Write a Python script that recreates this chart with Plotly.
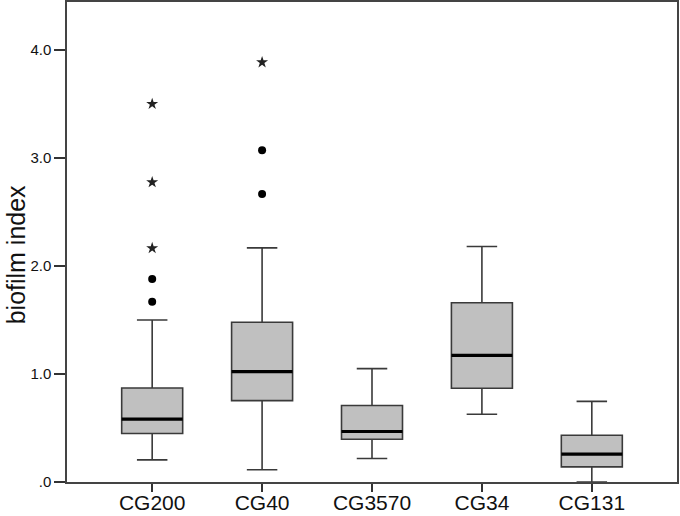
import plotly.graph_objects as go

categories = ["CG200", "CG40", "CG3570", "CG34", "CG131"]
q1 = [0.448, 0.753, 0.395, 0.867, 0.140]
median = [0.582, 1.021, 0.467, 1.171, 0.257]
q3 = [0.870, 1.478, 0.707, 1.658, 0.432]
lower_whisker = [0.205, 0.113, 0.217, 0.626, 0.0]
upper_whisker = [1.498, 2.166, 1.049, 2.178, 0.746]

# outliers (circle = mild, star = extreme)
circle_group = ["CG200", "CG200", "CG40", "CG40"]
circle_value = [1.667, 1.877, 2.665, 3.069]
star_group = ["CG200", "CG200", "CG200", "CG40"]
star_value = [2.163, 2.773, 3.497, 3.882]

ytick_vals = [0, 1, 2, 3, 4]
ytick_text = [".0", "1.0", "2.0", "3.0", "4.0"]

BOX_W = 0.555
idx = {c: i for i, c in enumerate(categories)}

fig = go.Figure()
for i, c in enumerate(categories):
    fig.add_trace(go.Box(
        x=[i], q1=[q1[i]], median=[median[i]], q3=[q3[i]],
        lowerfence=[lower_whisker[i]], upperfence=[upper_whisker[i]],
        width=BOX_W, whiskerwidth=0.5, boxpoints=False,
        fillcolor="#c0c0c0", line=dict(color="#3a3a3a", width=1.6),
        hoverinfo="skip", showlegend=False,
    ))

# thick median lines
mx, my = [], []
for i, c in enumerate(categories):
    mx += [i - BOX_W / 2, i + BOX_W / 2, None]
    my += [median[i], median[i], None]
fig.add_trace(go.Scatter(x=mx, y=my, mode="lines",
                         line=dict(color="#000", width=3.2),
                         hoverinfo="skip", showlegend=False))

fig.add_trace(go.Scatter(
    x=[idx[g] for g in circle_group], y=circle_value, mode="markers",
    marker=dict(symbol="circle", size=8, color="#000"),
    hoverinfo="skip", showlegend=False))
fig.add_trace(go.Scatter(
    x=[idx[g] for g in star_group], y=star_value, mode="markers",
    marker=dict(symbol="star", size=9, color="#222"),
    hoverinfo="skip", showlegend=False))

fig.add_annotation(
    text="biofilm index", textangle=-90, showarrow=False,
    xref="paper", yref="paper", x=-0.083, y=0.473,
    xanchor="center", yanchor="middle",
    font=dict(family="Liberation Sans, Arial", size=25, color="#111"))

fig.update_layout(
    width=680, height=516,
    margin=dict(l=67, r=3, t=2, b=34),
    paper_bgcolor="white", plot_bgcolor="white",
    font=dict(family="Liberation Sans, Arial", color="#111"),
    xaxis=dict(
        range=[-0.775, 4.775], tickmode="array",
        tickvals=list(range(len(categories))), ticktext=categories,
        ticks="outside", ticklen=8, tickwidth=1.5, tickcolor="#333",
        showgrid=False, zeroline=False, automargin=False,
        showline=True, linecolor="#444", linewidth=1.5, mirror=True,
        tickfont=dict(size=21, color="#111"), ticklabelstandoff=-7,
    ),
    yaxis=dict(
        range=[0, 4.44], tickmode="array",
        tickvals=ytick_vals, ticktext=ytick_text,
        ticks="outside", ticklen=11, tickwidth=1.5, tickcolor="#333",
        showgrid=False, zeroline=False, automargin=False,
        showline=True, linecolor="#444", linewidth=1.5, mirror=True,
        tickfont=dict(size=15, color="#111"),
    ),
)

fig.write_html("out.html", config={"displayModeBar": False},
               post_script="document.body.style.margin='0';")
